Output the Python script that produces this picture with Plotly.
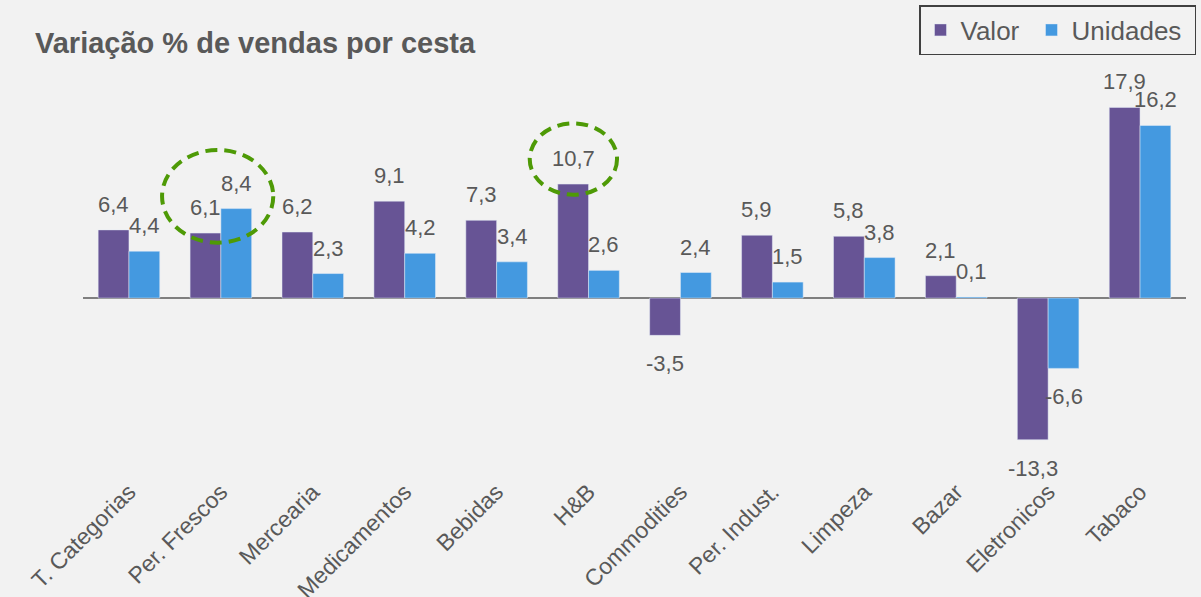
import plotly.graph_objects as go

categories = ["T. Categorias", "Per. Frescos", "Mercearia", "Medicamentos", "Bebidas", "H&B",
              "Commodities", "Per. Indust.", "Limpeza", "Bazar", "Eletronicos", "Tabaco"]
valor = [6.4, 6.1, 6.2, 9.1, 7.3, 10.7, -3.5, 5.9, 5.8, 2.1, -13.3, 17.9]
unidades = [4.4, 8.4, 2.3, 4.2, 3.4, 2.6, 2.4, 1.5, 3.8, 0.1, -6.6, 16.2]

def fmt(v):
    return f"{v:.1f}".replace(".", ",")

FONT = "Liberation Sans, Arial, sans-serif"
GRAY = "#595959"

fig = go.Figure()
fig.add_trace(go.Bar(name="Valor\u00a0", x=categories, y=valor, marker_color="#675495"))
fig.add_trace(go.Bar(name="Unidades\u00a0", x=categories, y=unidades, marker_color="#4499E0"))

# data labels, placed through the axes above/below each bar of the group
for series, shift in ((valor, -15.4), (unidades, 15.4)):
    for cat, v in zip(categories, series):
        pos = v >= 0
        fig.add_annotation(
            x=cat, y=v, xref="x", yref="y", text=fmt(v), showarrow=False,
            xshift=shift, yanchor="bottom" if pos else "top", yshift=11 if pos else -14,
            font=dict(size=22, color=GRAY, family=FONT),
        )

circle_style = dict(type="circle", xref="x", yref="y",
                    line=dict(color="#4E9A06", width=4, dash="12px,7px"))
fig.add_shape(x0=0.36, x1=1.57, y0=5.2, y1=13.9, **circle_style)
fig.add_shape(x0=4.36, x1=5.31, y0=9.7, y1=16.4, **circle_style)

fig.update_layout(
    width=1201, height=597,
    paper_bgcolor="#F2F2F2", plot_bgcolor="#F2F2F2",
    margin=dict(l=83, r=15, t=80, b=137),
    barmode="group", bargap=0.33, bargroupgap=0,
    font=dict(family=FONT, color=GRAY),
    title=dict(text="<b>Variação % de vendas por cesta</b>", x=35/1201, xanchor="left",
               y=1 - 43/597, yanchor="middle", font=dict(size=29, color=GRAY, family=FONT)),
    legend=dict(orientation="h", x=1196/1201, xanchor="right", xref="container",
                y=1 - 5/597, yanchor="top", yref="container",
                bordercolor="#404040", borderwidth=1.5, bgcolor="#F2F2F2",
                font=dict(size=26, color=GRAY, family=FONT), itemwidth=30, traceorder="normal"),
    xaxis=dict(tickangle=-45, tickfont=dict(size=23, color=GRAY, family=FONT), automargin=False,
               showgrid=False, showline=False, ticks="", ticklabelstandoff=13),
    yaxis=dict(range=[-15.2, 20.47], showgrid=False, showticklabels=False, automargin=False,
               zeroline=True, zerolinecolor="#7F7F7F", zerolinewidth=2, showline=False),
)

fig.write_html("out.html", config={"displayModeBar": False},
               post_script="document.body.style.margin='0';document.body.style.overflow='hidden';")
